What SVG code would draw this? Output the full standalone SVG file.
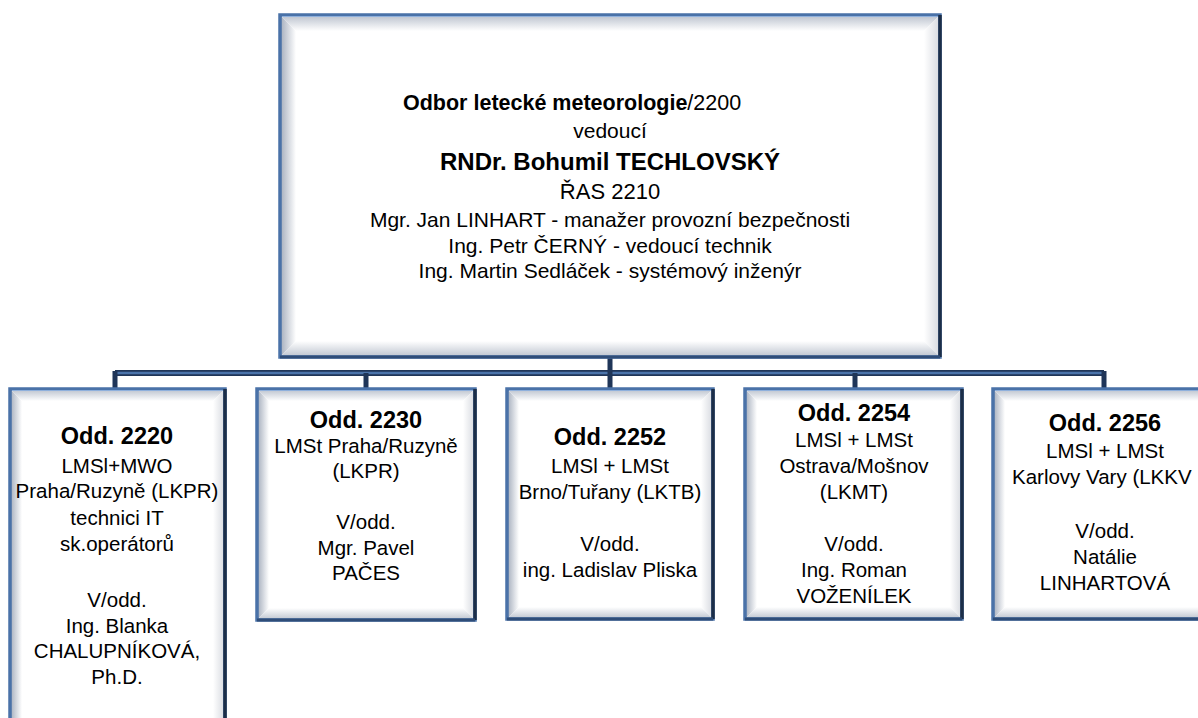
<svg xmlns="http://www.w3.org/2000/svg" width="1198" height="718" viewBox="0 0 1198 718">
<defs>
<linearGradient id="gL" x1="0" y1="0" x2="1" y2="0"><stop offset="0" stop-color="#a3acbb"/><stop offset="1" stop-color="#ffffff"/></linearGradient>
<linearGradient id="gT" x1="0" y1="0" x2="0" y2="1"><stop offset="0" stop-color="#b9c0cc"/><stop offset="1" stop-color="#ffffff"/></linearGradient>
<linearGradient id="gR" x1="1" y1="0" x2="0" y2="0"><stop offset="0" stop-color="#d6d9df"/><stop offset="1" stop-color="#ffffff"/></linearGradient>
<linearGradient id="gB" x1="0" y1="1" x2="0" y2="0"><stop offset="0" stop-color="#bcc3ce"/><stop offset="1" stop-color="#ffffff"/></linearGradient>
<style>
.bg{fill:#ffffff}
.bl{fill:url(#gL)}.bt{fill:url(#gT)}.br{fill:url(#gR)}.bb{fill:url(#gB)}
.frame{fill:none;stroke:#4a72a8;stroke-width:3.5}
.dk{stroke:#1c2e48;stroke-width:3.5;fill:none}
.db{stroke:#2f4d78;stroke-width:3;fill:none}
.hl{stroke:#8fb0dc;stroke-width:1;fill:none}
text{font-family:"Liberation Sans",Arial,sans-serif;fill:#000;text-anchor:middle}
.t{font-size:21px}
.s{font-size:20.5px}
.h{font-size:23.5px;font-weight:bold}
.b{font-weight:bold}
.c1{stroke:#1f3558;stroke-width:6;fill:none}
.c2{stroke:#4b74ab;stroke-width:2.5;fill:none}
.v{stroke:#1f3558;stroke-width:5;fill:none}
</style>
</defs>
<g id="connectors">
<path class="c1" d="M115,373 H1104"/>
<path class="c2" d="M115,373 H1104"/>
<path class="v" d="M610,357 V389 M115,371 V389 M366,373 V389 M855,373 V389 M1104,371 V389"/>
</g>
<g id="node-2200">
<rect class="bg" x="280" y="15" width="660" height="342"/>
<polygon class="bl" points="280,15 296,31 296,341 280,357"/>
<polygon class="bt" points="280,15 940,15 924,31 296,31"/>
<polygon class="br" points="940,15 940,357 924,341 924,31"/>
<polygon class="bb" points="280,357 940,357 924,341 296,341"/>
<rect class="frame" x="280" y="15" width="660" height="342"/>
<path class="hl" d="M282,16.5 H938"/>
<path class="dk" d="M940,15 V357"/>
<path class="db" d="M280,357 H940"/>
<text x="403" y="110" style="text-anchor:start;font-size:21.5px"><tspan class="b">Odbor letecké meteorologie</tspan>/2200</text>
<text class="t" x="610" y="138">vedoucí</text>
<text x="610" y="170" style="font-size:24px;font-weight:bold">RNDr. Bohumil TECHLOVSKÝ</text>
<text x="610" y="199" style="font-size:22px">ŘAS 2210</text>
<text class="t" x="610" y="227">Mgr. Jan LINHART - manažer provozní bezpečnosti</text>
<text class="t" x="610" y="253">Ing. Petr ČERNÝ - vedoucí technik</text>
<text class="t" x="610" y="278">Ing. Martin Sedláček - systémový inženýr</text>
</g>
<g id="node-2220">
<rect class="bg" x="10" y="389" width="215" height="345"/>
<polygon class="bl" points="10,389 22,401 22,734 10,734"/>
<polygon class="bt" points="10,389 225,389 213,401 22,401"/>
<polygon class="br" points="225,389 225,734 213,734 213,401"/>
<rect class="frame" x="10" y="389" width="215" height="345"/>
<path class="hl" d="M12,390.5 H223"/>
<path class="dk" d="M225,389 V734"/>
<text class="h" x="117" y="444">Odd. 2220</text>
<text class="s" x="117" y="473">LMSl+MWO</text>
<text class="s" x="117" y="498">Praha/Ruzyně (LKPR)</text>
<text class="s" x="117" y="525">technici IT</text>
<text class="s" x="117" y="551">sk.operátorů</text>
<text class="s" x="117" y="607">V/odd.</text>
<text class="s" x="117" y="633">Ing. Blanka</text>
<text class="s" x="117" y="658">CHALUPNÍKOVÁ,</text>
<text class="s" x="117" y="684">Ph.D.</text>
</g>
<g id="node-2230">
<rect class="bg" x="257" y="389" width="218" height="231"/>
<polygon class="bl" points="257,389 269,401 269,608 257,620"/>
<polygon class="bt" points="257,389 475,389 463,401 269,401"/>
<polygon class="br" points="475,389 475,620 463,608 463,401"/>
<polygon class="bb" points="257,620 475,620 463,608 269,608"/>
<rect class="frame" x="257" y="389" width="218" height="231"/>
<path class="hl" d="M259,390.5 H473"/>
<path class="dk" d="M475,389 V620"/>
<path class="db" d="M257,620 H475"/>
<text class="h" x="366" y="428">Odd. 2230</text>
<text class="s" x="366" y="453">LMSt Praha/Ruzyně</text>
<text class="s" x="366" y="478">(LKPR)</text>
<text class="s" x="366" y="529">V/odd.</text>
<text class="s" x="366" y="555">Mgr. Pavel</text>
<text class="s" x="366" y="580">PAČES</text>
</g>
<g id="node-2252">
<rect class="bg" x="507" y="389" width="206" height="230"/>
<polygon class="bl" points="507,389 519,401 519,607 507,619"/>
<polygon class="bt" points="507,389 713,389 701,401 519,401"/>
<polygon class="br" points="713,389 713,619 701,607 701,401"/>
<polygon class="bb" points="507,619 713,619 701,607 519,607"/>
<rect class="frame" x="507" y="389" width="206" height="230"/>
<path class="hl" d="M509,390.5 H711"/>
<path class="dk" d="M713,389 V619"/>
<path class="db" d="M507,619 H713"/>
<text class="h" x="610" y="445">Odd. 2252</text>
<text class="s" x="610" y="473">LMSl + LMSt</text>
<text class="s" x="610" y="499">Brno/Tuřany (LKTB)</text>
<text class="s" x="610" y="551">V/odd.</text>
<text class="s" x="610" y="577">ing. Ladislav Pliska</text>
</g>
<g id="node-2254">
<rect class="bg" x="745" y="389" width="217" height="230"/>
<polygon class="bl" points="745,389 757,401 757,607 745,619"/>
<polygon class="bt" points="745,389 962,389 950,401 757,401"/>
<polygon class="br" points="962,389 962,619 950,607 950,401"/>
<polygon class="bb" points="745,619 962,619 950,607 757,607"/>
<rect class="frame" x="745" y="389" width="217" height="230"/>
<path class="hl" d="M747,390.5 H960"/>
<path class="dk" d="M962,389 V619"/>
<path class="db" d="M745,619 H962"/>
<text class="h" x="854" y="421">Odd. 2254</text>
<text class="s" x="854" y="447">LMSl + LMSt</text>
<text class="s" x="854" y="473">Ostrava/Mošnov</text>
<text class="s" x="854" y="499">(LKMT)</text>
<text class="s" x="854" y="551">V/odd.</text>
<text class="s" x="854" y="577">Ing. Roman</text>
<text class="s" x="854" y="603">VOŽENÍLEK</text>
</g>
<g id="node-2256">
<rect class="bg" x="993" y="389" width="224" height="230"/>
<polygon class="bl" points="993,389 1005,401 1005,607 993,619"/>
<polygon class="bt" points="993,389 1217,389 1205,401 1005,401"/>
<polygon class="bb" points="993,619 1217,619 1205,607 1005,607"/>
<rect class="frame" x="993" y="389" width="224" height="230"/>
<path class="hl" d="M995,390.5 H1215"/>
<path class="db" d="M993,619 H1217"/>
<text class="h" x="1105" y="431">Odd. 2256</text>
<text class="s" x="1105" y="458">LMSl + LMSt</text>
<text class="s" x="1012" y="484" style="text-anchor:start">Karlovy Vary (LKKV</text>
<text class="s" x="1105" y="538">V/odd.</text>
<text class="s" x="1105" y="564">Natálie</text>
<text class="s" x="1105" y="590">LINHARTOVÁ</text>
</g>
</svg>
